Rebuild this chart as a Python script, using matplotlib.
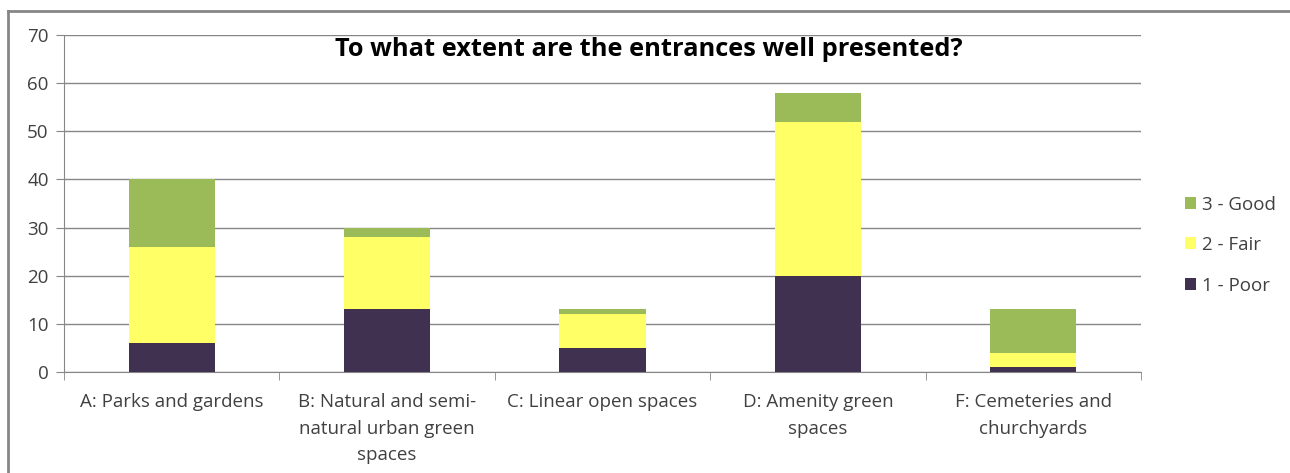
import numpy as np
import matplotlib.pyplot as plt
from matplotlib.lines import Line2D

categories = [
    "A: Parks and gardens",
    "B: Natural and semi-\nnatural urban green\nspaces",
    "C: Linear open spaces",
    "D: Amenity green\nspaces",
    "F: Cemeteries and\nchurchyards",
]
poor = [6, 13, 5, 20, 1]
fair = [20, 15, 7, 32, 3]
good = [14, 2, 1, 6, 9]

series = [("1 - Poor", poor, "#403151"),
          ("2 - Fair", fair, "#FFFF66"),
          ("3 - Good", good, "#9BBB59")]

plt.rcParams['font.family'] = ['Open Sans', 'DejaVu Sans']

fig = plt.figure(figsize=(12.9, 4.73), dpi=100)
ax = fig.add_axes([64 / 1290, 1 - 372 / 473, (1141 - 64) / 1290, (372 - 35) / 473])

x = np.arange(len(categories))
bottom = np.zeros(len(categories))
handles = []
for name, vals, color in series:
    b = ax.bar(x, vals, width=0.4, bottom=bottom, color=color, label=name, zorder=3)
    bottom += np.array(vals)
    handles.append(b)

ax.set_xlim(-0.5, len(categories) - 0.5)
ax.set_ylim(0, 70)
ax.set_yticks(range(0, 71, 10))
ax.grid(axis='y', color='#868686', linewidth=1, zorder=0)
ax.set_axisbelow(True)

ax.set_xticks(x)
ax.set_xticklabels(categories, fontsize=13.5, color='#404040', linespacing=1.62)
ax.set_xticks(np.arange(-0.5, len(categories)), minor=True)
ax.tick_params(axis='x', which='major', length=0, pad=15)
ax.tick_params(axis='x', which='minor', length=6, color='#868686')
ax.tick_params(axis='y', length=6, color='#868686', labelsize=13.5, labelcolor='#404040', pad=5)

for side in ['top', 'right']:
    ax.spines[side].set_visible(False)
for side in ['left', 'bottom']:
    ax.spines[side].set_color('#868686')

fig.text(0.503, 1 - 50 / 473, "To what extent are the entrances well presented?",
         ha='center', va='center', fontsize=18.3, fontweight='bold', color='black')

leg = fig.legend(handles[::-1], [s[0] for s in series[::-1]],
                 loc='center left', bbox_to_anchor=(1168 / 1290, 1 - 245 / 473),
                 frameon=False, fontsize=13.5, handlelength=0.6, handleheight=0.6,
                 handletextpad=0.3, labelspacing=1.2)
for t in leg.get_texts():
    t.set_color('#404040')

# outer chart border (top and left edges visible)
fig.add_artist(Line2D([8 / 1290, 1], [1 - 11 / 473, 1 - 11 / 473], color='#868686', linewidth=2))
fig.add_artist(Line2D([8 / 1290, 8 / 1290], [0, 1 - 11 / 473], color='#868686', linewidth=2))

fig.savefig("out.png", dpi=100)
